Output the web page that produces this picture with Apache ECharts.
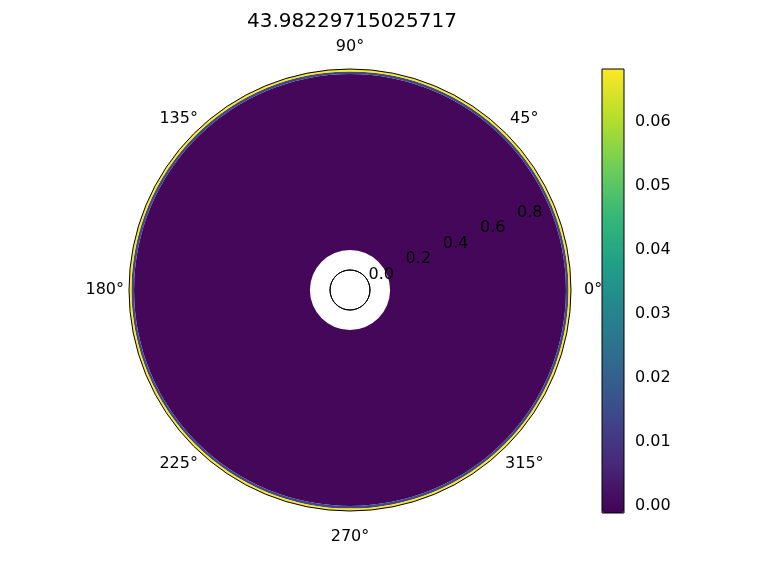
<!DOCTYPE html>
<html>
<head>
<meta charset="utf-8">
<script src="https://cdn.jsdelivr.net/npm/echarts@6/dist/echarts.min.js"></script>
<style>html,body{margin:0;padding:0;background:#fff}#c{width:768px;height:576px}</style>
</head>
<body>
<div id="c"></div>
<script>
var titleText = '43.98229715025717';
var ringInner = [0.1, 0.975, 0.988];
var ringOuter = [0.975, 0.988, 1.0];
var ringValue = [0.0, 0.014, 0.068];
var colorMin = -0.0011;
var colorMax = 0.0683;
var colorTicks = [0.00, 0.01, 0.02, 0.03, 0.04, 0.05, 0.06];
var angleTicks = [0, 45, 90, 135, 180, 225, 270, 315];
var radiusTicks = [0.0, 0.2, 0.4, 0.6, 0.8];
var viridis = ['#440154','#482878','#3e4989','#31688e','#26828e','#1f9e89','#35b779','#6ece58','#b5de2b','#fde725'];

var FONT = 'DejaVu Sans';
var data = ringInner.map(function (r0, i) { return [r0, ringOuter[i], ringValue[i]]; });

// per-label padding so labels sit centred on a ring like matplotlib's theta labels
var labelPad = {
  a0: [0, 0, 0, 19], a45: [0, 0, 11, 8], a90: [0, 0, 20, 0], a135: [0, 0, 11, 0],
  a180: [0, 11, 0, 0], a225: [14, 0, 0, 0], a270: [24, 0, 0, 0], a315: [14, 0, 0, 3]
};
var rich = {};
Object.keys(labelPad).forEach(function (k) {
  rich[k] = {padding: labelPad[k], fontFamily: FONT, fontSize: 16, color: '#000'};
});

var chart = echarts.init(document.getElementById('c'), null, {renderer: 'canvas'});
var center = [350, 290];
chart.setOption({
  backgroundColor: '#fff',
  animation: false,
  title: {
    text: titleText, left: 347, top: 7, textAlign: 'center',
    textStyle: {fontFamily: FONT, fontSize: 20, fontWeight: 'normal', color: '#000'}
  },
  polar: [
    {center: center, radius: [20, 221]},
    {center: center, radius: [20, 221]},
    {center: center, radius: 20}
  ],
  angleAxis: [
    {polarIndex: 0, type: 'value', min: 0, max: 360, interval: 45, startAngle: 0, clockwise: false, z: 10,
     axisLine: {show: true, lineStyle: {color: '#000', width: 1}},
     axisTick: {show: false}, splitLine: {show: false},
     axisLabel: {margin: -6, color: '#000', fontFamily: FONT, fontSize: 16,
       customValues: angleTicks, rich: rich,
       formatter: function (v) { return v >= 360 ? '' : '{a' + v + '|' + v + '°}'; }}},
    {polarIndex: 1, type: 'value', min: 0, max: 360, startAngle: 22.5, clockwise: false, show: false,
     axisLine: {show: false}, axisTick: {show: false}, splitLine: {show: false}, axisLabel: {show: false}},
    {polarIndex: 2, type: 'value', min: 0, max: 360, startAngle: 0, clockwise: false, z: 10,
     axisLine: {show: true, lineStyle: {color: '#000', width: 1}},
     axisTick: {show: false}, splitLine: {show: false}, axisLabel: {show: false}}
  ],
  radiusAxis: [
    {polarIndex: 0, type: 'value', min: 0, max: 1, show: false,
     axisLine: {show: false}, axisTick: {show: false}, splitLine: {show: false}, axisLabel: {show: false}},
    {polarIndex: 1, type: 'value', min: 0, max: 1, interval: 0.2, z: 10,
     axisLine: {show: false}, axisTick: {show: false}, splitLine: {show: false},
     axisLabel: {show: true, margin: 0, align: 'left', verticalAlign: 'bottom', color: '#000', fontFamily: FONT, fontSize: 16,
       customValues: radiusTicks,
       formatter: function (v) { return v >= 1 ? '' : v.toFixed(1); }}},
    {polarIndex: 2, type: 'value', min: 0, max: 1, show: false}
  ],
  grid: {left: 602, top: 69, width: 22, height: 444, show: true, borderColor: '#000', borderWidth: 1, backgroundColor: 'transparent', z: 10},
  xAxis: {type: 'value', show: false, min: 0, max: 1},
  yAxis: {type: 'value', position: 'right', min: colorMin, max: colorMax,
    axisLine: {show: false}, splitLine: {show: false},
    axisTick: {show: true, length: 4, lineStyle: {color: '#000'}, customValues: colorTicks},
    axisLabel: {show: true, margin: 11, color: '#000', fontFamily: FONT, fontSize: 16, customValues: colorTicks,
      formatter: function (v) { return v.toFixed(2); }}},
  visualMap: {
    type: 'continuous', min: colorMin, max: colorMax, dimension: 2, seriesIndex: 0,
    left: 602, top: 69, itemWidth: 22, itemHeight: 444, padding: 0,
    calculable: false, hoverLink: false, realtime: false,
    inRange: {color: viridis}
  },
  series: [{
    type: 'custom', coordinateSystem: 'polar', polarIndex: 0,
    data: data, silent: true,
    renderItem: function (params, api) {
      var cs = params.coordSys;
      var p0 = api.coord([api.value(0), 0]);
      var p1 = api.coord([api.value(1), 0]);
      var r0 = Math.hypot(p0[0] - cs.cx, p0[1] - cs.cy);
      var r1 = Math.hypot(p1[0] - cs.cx, p1[1] - cs.cy);
      return {
        type: 'sector',
        shape: {cx: cs.cx, cy: cs.cy, r0: r0, r: r1, startAngle: 0, endAngle: Math.PI * 2},
        style: {fill: api.visual('color')}
      };
    }
  }]
});
</script>
</body>
</html>
